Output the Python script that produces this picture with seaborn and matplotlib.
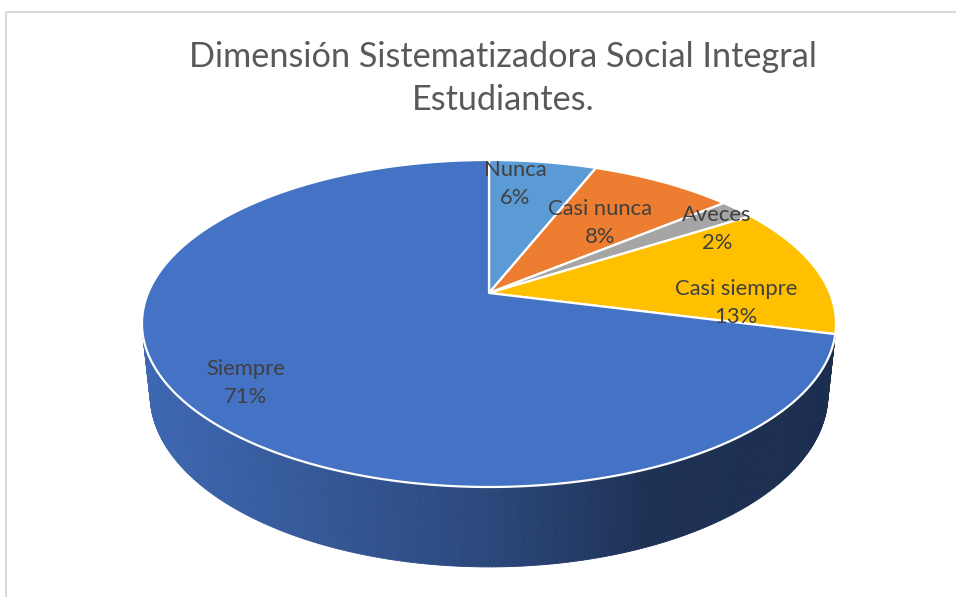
import numpy as np
import matplotlib
matplotlib.use("Agg")
import matplotlib.pyplot as plt
import seaborn as sns
from matplotlib.patches import Polygon
from matplotlib.collections import PolyCollection
from matplotlib.colors import to_rgb

# ---------------- data ----------------
categories = ["Nunca", "Casi nunca", "Aveces", "Casi siempre", "Siempre"]
percentages = [6, 8, 2, 13, 71]
slice_colors = ["#5b9bd5", "#ed7d31", "#a5a5a5", "#ffc000", "#4472c4"]
title_lines = ["Dimensión Sistematizadora Social Integral", "Estudiantes."]

# label anchor positions (pixel layout, centre of the two-line label)
label_pos = [(515, 182), (600, 221), (717, 227), (736, 301), (246, 381)]

# ---------------- layout ----------------
W, H = 956, 597
sns.set_theme(style="white")
plt.rcParams["font.family"] = ["Lato", "DejaVu Sans"]

fig = plt.figure(figsize=(W / 100, H / 100), dpi=100)
ax = fig.add_axes([0, 0, 1, 1])
ax.set_xlim(0, W)
ax.set_ylim(H, 0)
ax.axis("off")

# perspective projection of a flat cylinder (Excel-like 3D pie)
CX, CY = 489, 293
F, DIST, THICK = 1620.0, 4.752, 0.236
ALPHA = np.arcsin(0.4629)
ca, sa = np.cos(ALPHA), np.sin(ALPHA)


def project(t, z=0.0, r=1.0):
    x = r * np.cos(t)
    y = r * np.sin(t)
    depth = DIST + y * ca - z * sa
    up = y * sa + z * ca
    return CX + F * x / depth, CY - F * up / depth


vals = np.array(percentages, dtype=float)
cum = np.concatenate([[0], np.cumsum(vals)]) / vals.sum()
bounds = np.pi / 2 - 2 * np.pi * cum  # clockwise from 12 o'clock

# shading for the side wall (factor vs screen x)
shade_x = [142, 489, 650, 836]
shade_f = [0.91, 0.63, 0.43, 0.40]

k = 1.0 / (DIST * ca)
vis_lo, vis_hi = -np.pi + np.arcsin(k), -np.arcsin(k)

# side walls
for i, col in enumerate(slice_colors):
    t_start, t_end = bounds[i], bounds[i + 1]
    for shift in (0, 2 * np.pi, -2 * np.pi):
        a_hi = min(t_start + shift, vis_hi)
        a_lo = max(t_end + shift, vis_lo)
        if a_hi <= a_lo:
            continue
        n = max(2, int((a_hi - a_lo) / np.deg2rad(0.5)))
        ts = np.linspace(a_hi, a_lo, n + 1)
        polys, fcs = [], []
        base = np.array(to_rgb(col))
        for j in range(n):
            x1, y1 = project(ts[j])
            x2, y2 = project(ts[j + 1])
            x3, y3 = project(ts[j + 1], -THICK)
            x4, y4 = project(ts[j], -THICK)
            polys.append([(x1, y1), (x2, y2), (x3, y3), (x4, y4)])
            fac = np.interp((x1 + x2) / 2, shade_x, shade_f)
            fcs.append(np.clip(base * fac, 0, 1))
        pc = PolyCollection(polys, facecolors=fcs, edgecolors=fcs, linewidths=0.6)
        ax.add_collection(pc)

# top face wedges
for i, col in enumerate(slice_colors):
    t_start, t_end = bounds[i], bounds[i + 1]
    n = max(4, int(abs(t_start - t_end) / np.deg2rad(0.5)))
    ts = np.linspace(t_start, t_end, n + 1)
    xs, ys = project(ts)
    pts = [(CX, CY)] + list(zip(xs, ys))
    ax.add_patch(Polygon(pts, closed=True, facecolor=col, edgecolor="white",
                         linewidth=1.6, joinstyle="round"))

# ---------------- text ----------------
fig.canvas.draw()
renderer = fig.canvas.get_renderer()


def fit_size(s, width_px, **kw):
    t = ax.text(0, 0, s, fontsize=20, **kw)
    w = t.get_window_extent(renderer).width
    t.remove()
    return 20 * width_px / w


title_fs = fit_size(title_lines[0], 630)
ax.text(503, 57, title_lines[0], fontsize=title_fs, color="#595959",
        ha="center", va="center")
ax.text(503, 100, title_lines[1], fontsize=title_fs, color="#595959",
        ha="center", va="center")

label_fs = fit_size("Casi siempre", 123)
for name, pct, (lx, ly) in zip(categories, percentages, label_pos):
    ax.text(lx, ly - 14, name, fontsize=label_fs, color="#404040",
            ha="center", va="center_baseline")
    ax.text(lx, ly + 14, f"{pct}%", fontsize=label_fs, color="#404040",
            ha="center", va="center_baseline")

# chart frame (light grey)
ax.plot([6.5, 6.5], [H, 11.5], color="#d9d9d9", lw=1.5, solid_capstyle="butt")
ax.plot([6.5, W], [11.5, 11.5], color="#d9d9d9", lw=1.5, solid_capstyle="butt")

fig.savefig("out.png", dpi=100, facecolor="white")
